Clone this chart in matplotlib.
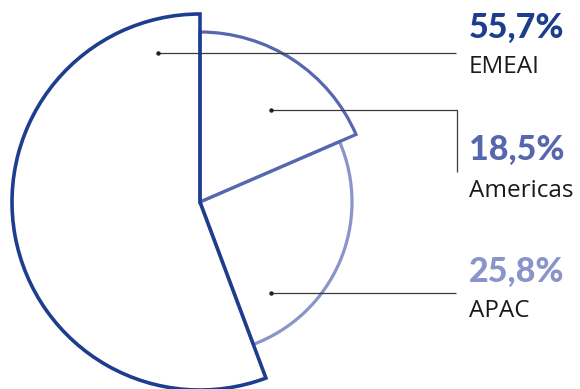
import matplotlib.pyplot as plt
from matplotlib.patches import Wedge

# ── DATA ─────────────────────────────────────────────────────────────────────
regions = ["EMEAI", "Americas", "APAC"]
shares = [55.7, 18.5, 25.8]
pct_labels = ["55,7%", "18,5%", "25,8%"]

# ── STYLE / LAYOUT ───────────────────────────────────────────────────────────
colors = ["#1d3e8e", "#5767af", "#8a94c9"]
radii = [188, 170, 152]
widths = [2.6, 2.3, 2.3]
W, H = 580, 389
cx, cy = 200, H - 202

fig = plt.figure(figsize=(W / 100, H / 100), dpi=100)
ax = fig.add_axes([0, 0, 1, 1])
ax.set_xlim(0, W)
ax.set_ylim(0, H)
ax.axis("off")

# EMEAI runs counter-clockwise from 12 o'clock, the others clockwise
deg = [s / 100 * 360 for s in shares]
spans = [
    (90, 90 + deg[0]),
    (90 - deg[1], 90),
    (90 - deg[1] - deg[2], 90 - deg[1]),
]
for i in [2, 1, 0]:
    t1, t2 = spans[i]
    ax.add_patch(Wedge((cx, cy), radii[i], t1, t2, facecolor="none",
                       edgecolor=colors[i], linewidth=widths[i],
                       joinstyle="miter", zorder=2 + (2 - i)))

# ── LEADER LINES ─────────────────────────────────────────────────────────────
leaders = [
    [(158, 53), (456, 53)],
    [(271, 110), (457, 110), (457, 172)],
    [(271, 293), (456, 293)],
]
for pts in leaders:
    xs = [p[0] for p in pts]
    ys = [H - p[1] for p in pts]
    ax.plot(xs, ys, color="#3a3a3a", lw=0.9, zorder=6, solid_capstyle="butt")
    ax.plot(xs[0], ys[0], "o", color="#222222", ms=2.2, zorder=7)

# ── LABELS ───────────────────────────────────────────────────────────────────
pct_base = [38, 160, 282]
name_base = [73, 197, 317]
for i, r in enumerate(regions):
    ax.text(469, H - pct_base[i], pct_labels[i], color=colors[i],
            fontsize=24.5, fontweight=900, fontstyle="normal",
            family="Lato", ha="left", va="baseline")
    ax.text(469, H - name_base[i], r, color="#1a1a1a", fontsize=17.5,
            family="Open Sans", ha="left", va="baseline")

fig.savefig("out.png", dpi=100)
